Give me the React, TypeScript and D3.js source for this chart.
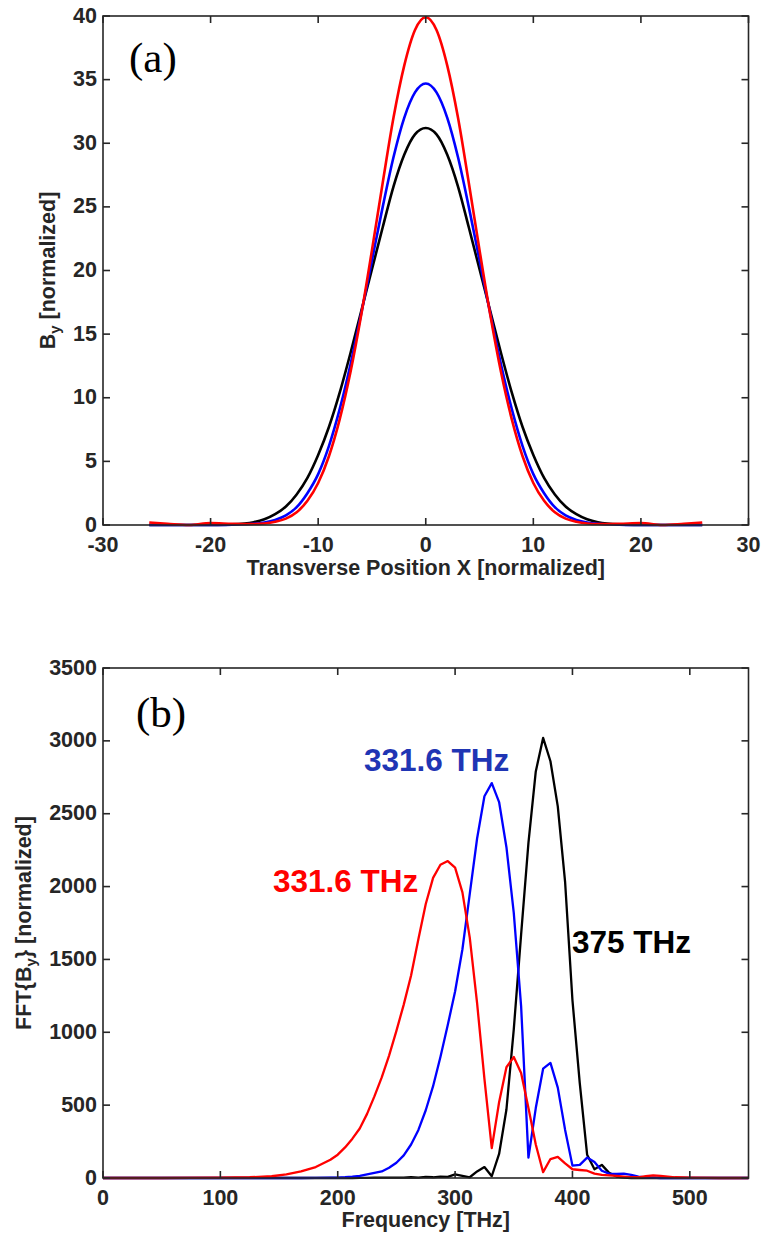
import React from "react";
import * as d3 from "d3";

// ---------- Panel (a) data ----------
const posX = [
  -25.7, -24, -22, -20, -18, -16, -15, -14, -13, -12, -11, -10, -9, -8, -7, -6, -5, -4, -3, -2, -1, 0,
  1, 2, 3, 4, 5, 6, 7, 8, 9, 10, 11, 12, 13, 14, 15, 16, 18, 20, 22, 24, 25.7,
];
const byBlack = [
  0, 0, 0, 0.01, 0.05, 0.22, 0.45, 0.85, 1.45, 2.4, 3.7, 5.5, 7.7, 10.4, 13.5, 16.8, 20.1, 23.4, 26.6, 29.1, 30.7, 31.2,
  30.7, 29.1, 26.6, 23.4, 20.1, 16.8, 13.5, 10.4, 7.7, 5.5, 3.7, 2.4, 1.45, 0.85, 0.45, 0.22, 0.05, 0.01, 0, 0, 0,
];
const byBlue = [
  0, 0, 0, 0, 0.03, 0.1, 0.2, 0.4, 0.75, 1.4, 2.5, 4.0, 6.2, 9.1, 12.6, 16.6, 20.8, 25.0, 28.9, 32.0, 34.0, 34.7,
  34.0, 32.0, 28.9, 25.0, 20.8, 16.6, 12.6, 9.1, 6.2, 4.0, 2.5, 1.4, 0.75, 0.4, 0.2, 0.1, 0.03, 0, 0, 0, 0,
];
const byRed = [
  0.2, 0.1, 0.0, 0.15, 0.1, 0.08, 0.12, 0.25, 0.5, 1.0, 1.9, 3.3, 5.4, 8.3, 12.0, 16.5, 21.6, 26.9, 32.0, 36.1, 38.9, 39.9,
  38.9, 36.1, 32.0, 26.9, 21.6, 16.5, 12.0, 8.3, 5.4, 3.3, 1.9, 1.0, 0.5, 0.25, 0.12, 0.08, 0.1, 0.15, 0.0, 0.1, 0.2,
];
const xTicksA = [-30, -20, -10, 0, 10, 20, 30];
const yTicksA = [0, 5, 10, 15, 20, 25, 30, 35, 40];

// ---------- Panel (b) data ----------
const freq = [
  0, 50, 100, 125, 143.75, 156.25, 168.75, 181.25, 193.75,
  200, 206.25, 212.5, 218.75, 225, 231.25, 237.5, 243.75, 250, 256.25, 262.5, 268.75, 275, 281.25, 287.5, 293.75,
  300, 306.25, 312.5, 318.75, 325, 331.25, 337.5, 343.75, 350, 356.25, 362.5, 368.75, 375, 381.25, 387.5, 393.75,
  400, 406.25, 412.5, 418.75, 425, 431.25, 437.5, 443.75, 450, 456.25, 462.5, 468.75, 475,
  487.5, 500, 525, 550,
];
const fftRed = [
  0, 0, 2, 5, 12, 25, 45, 75, 125,
  160, 210, 270, 340, 440, 560, 690, 840, 1010, 1190, 1390, 1640, 1880, 2060, 2150, 2175,
  2130, 1960, 1650, 1200, 680, 205, 520, 760, 830, 720, 480, 230, 40, 130, 145, 100,
  60, 55, 50, 30, 22, 18, 15, 10, 6, 5, 12, 18, 15,
  5, 3, 0, 0,
];
const fftBlue = [
  0, 0, 0, 0, 0, 0, 0, 1, 2,
  3, 5, 9, 15, 25, 35, 45, 70, 105, 155, 230, 330, 465, 630, 830, 1050,
  1280, 1570, 1950, 2330, 2620, 2710, 2580, 2270, 1820, 1180, 140, 480, 750, 790, 620, 330,
  85, 90, 140, 110, 50, 30, 28, 30, 22, 10, 4, 2, 0,
  0, 0, 0, 0,
];
const fftBlack = [
  0, 0, 0, 0, 0, 0, 0, 0, 0,
  0, 0, 0, 1, 1, 2, 2, 3, 3, 2, 5, 3, 8, 5, 10, 8,
  25, 15, 5, 45, 75, 12, 165, 470, 1020, 1670, 2300, 2790, 3020, 2860, 2550, 2030,
  1220, 650, 160, 60, 90, 35, 10, 3, 0, 0, 0, 0, 0,
  0, 0, 0, 0,
];
const xTicksB = [0, 100, 200, 300, 400, 500];
const yTicksB = [0, 500, 1000, 1500, 2000, 2500, 3000, 3500];

const annotations = [
  { text: "331.6 THz", color: "#1f35b4", key: "blue" },
  { text: "331.6 THz", color: "#ff0000", key: "red" },
  { text: "375 THz", color: "#000000", key: "black" },
];

const AX = "#262626";
const TICK_FONT = "'Liberation Sans', Arial, Helvetica, sans-serif";

type PanelProps = {
  top: number;
  bottom: number;
  xDomain: [number, number];
  yDomain: [number, number];
  xTicks: number[];
  yTicks: number[];
  xs: number[];
  series: { values: number[]; color: string }[];
  curve: d3.CurveFactory;
  lineWidth: number;
};

const LEFT = 103;
const RIGHT = 748.5;

function Panel(p: PanelProps) {
  const x = d3.scaleLinear().domain(p.xDomain).range([LEFT, RIGHT]);
  const y = d3.scaleLinear().domain(p.yDomain).range([p.bottom, p.top]);
  const tl = 7;
  return (
    <g>
      {p.series.map((s, i) => {
        const line = d3
          .line<number>()
          .x((_, j) => x(p.xs[j]))
          .y((d) => y(d))
          .curve(p.curve);
        return (
          <path
            key={i}
            d={line(s.values) || ""}
            fill="none"
            stroke={s.color}
            strokeWidth={p.lineWidth}
            strokeLinejoin="round"
          />
        );
      })}
      <rect
        x={LEFT}
        y={p.top}
        width={RIGHT - LEFT}
        height={p.bottom - p.top}
        fill="none"
        stroke={AX}
        strokeWidth={1.6}
      />
      {p.xTicks.map((t) => (
        <g key={"xt" + t}>
          <line x1={x(t)} x2={x(t)} y1={p.bottom} y2={p.bottom - tl} stroke={AX} strokeWidth={1.6} />
          <line x1={x(t)} x2={x(t)} y1={p.top} y2={p.top + tl} stroke={AX} strokeWidth={1.6} />
          <text
            x={x(t)}
            y={p.bottom + 27}
            textAnchor="middle"
            fontFamily={TICK_FONT}
            fontWeight="bold"
            fontSize={21.5}
            fill={AX}
          >
            {t}
          </text>
        </g>
      ))}
      {p.yTicks.map((t) => (
        <g key={"yt" + t}>
          <line x1={LEFT} x2={LEFT + tl} y1={y(t)} y2={y(t)} stroke={AX} strokeWidth={1.6} />
          <line x1={RIGHT} x2={RIGHT - tl} y1={y(t)} y2={y(t)} stroke={AX} strokeWidth={1.6} />
          <text
            x={97}
            y={y(t) + 6.5}
            textAnchor="end"
            fontFamily={TICK_FONT}
            fontWeight="bold"
            fontSize={21.5}
            fill={AX}
          >
            {t}
          </text>
        </g>
      ))}
    </g>
  );
}

export default function App() {
  const aTop = 16,
    aBottom = 525;
  const bTop = 668,
    bBottom = 1178;
  const annPos: Record<string, { x: number; y: number }> = {
    blue: { x: 364, y: 771 },
    red: { x: 273, y: 892 },
    black: { x: 572, y: 953 },
  };
  return (
    <div style={{ position: "absolute", left: 0, top: 0 }}>
      <svg width={762} height={1233} style={{ display: "block", background: "#fff" }}>
        <Panel
          top={aTop}
          bottom={aBottom}
          xDomain={[-30, 30]}
          yDomain={[0, 40]}
          xTicks={xTicksA}
          yTicks={yTicksA}
          xs={posX}
          series={[
            { values: byBlack, color: "#000000" },
            { values: byBlue, color: "#0000ff" },
            { values: byRed, color: "#ff0000" },
          ]}
          curve={d3.curveMonotoneX}
          lineWidth={2.6}
        />
        <text x={129} y={72} fontFamily="'Liberation Serif', 'Times New Roman', serif" fontSize={43} fill="#000">
          (a)
        </text>
        <text
          x={(LEFT + RIGHT) / 2}
          y={575}
          textAnchor="middle"
          fontFamily={TICK_FONT}
          fontWeight="bold"
          fontSize={21.5}
          fill={AX}
        >
          Transverse Position X [normalized]
        </text>
        <text
          transform={`translate(55, ${(aTop + aBottom) / 2}) rotate(-90)`}
          textAnchor="middle"
          fontFamily={TICK_FONT}
          fontWeight="bold"
          fontSize={21.5}
          fill={AX}
        >
          B
          <tspan fontSize={15} dy={5}>
            y
          </tspan>
          <tspan dy={-5}> [normalized]</tspan>
        </text>

        <Panel
          top={bTop}
          bottom={bBottom}
          xDomain={[0, 550]}
          yDomain={[0, 3500]}
          xTicks={xTicksB}
          yTicks={yTicksB}
          xs={freq}
          series={[
            { values: fftBlack, color: "#000000" },
            { values: fftBlue, color: "#0000ff" },
            { values: fftRed, color: "#ff0000" },
          ]}
          curve={d3.curveLinear}
          lineWidth={2.3}
        />
        <text x={136} y={727} fontFamily="'Liberation Serif', 'Times New Roman', serif" fontSize={43} fill="#000">
          (b)
        </text>
        <text
          x={(LEFT + RIGHT) / 2}
          y={1227}
          textAnchor="middle"
          fontFamily={TICK_FONT}
          fontWeight="bold"
          fontSize={21.5}
          fill={AX}
        >
          Frequency [THz]
        </text>
        <text
          transform={`translate(31, ${(bTop + bBottom) / 2}) rotate(-90)`}
          textAnchor="middle"
          fontFamily={TICK_FONT}
          fontWeight="bold"
          fontSize={21.5}
          fill={AX}
        >
          {"FFT{B"}
          <tspan fontSize={15} dy={5}>
            y
          </tspan>
          <tspan dy={-5}>{"} [normalized]"}</tspan>
        </text>
        {annotations.map((a) => (
          <text
            key={a.key}
            x={annPos[a.key].x}
            y={annPos[a.key].y}
            fontFamily={TICK_FONT}
            fontWeight="bold"
            fontSize={31.5}
            fill={a.color}
          >
            {a.text}
          </text>
        ))}
      </svg>
    </div>
  );
}
